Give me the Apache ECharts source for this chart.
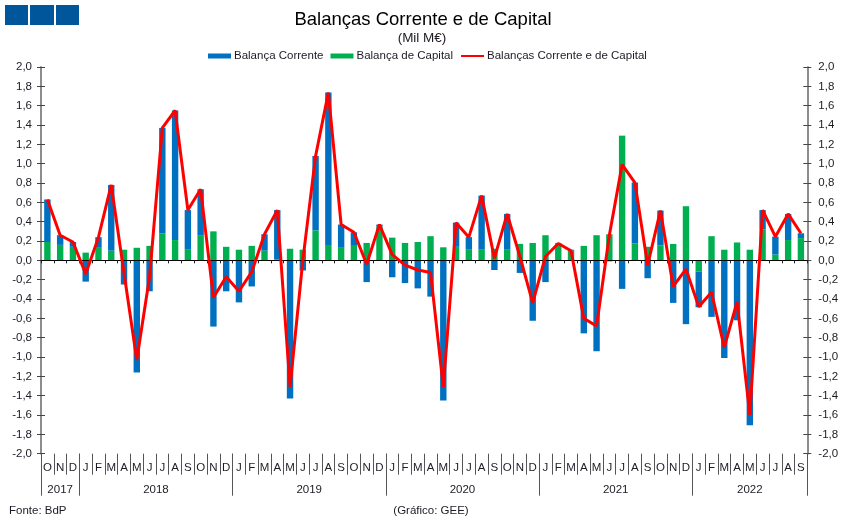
<!DOCTYPE html>
<html>
<head>
<meta charset="utf-8">
<script src="https://cdn.jsdelivr.net/npm/echarts@6/dist/echarts.min.js"></script>
<style>html,body{margin:0;padding:0;background:#fff}#chart{width:851px;height:525px}</style>
</head>
<body>
<div id="chart"></div>
<script>
var meses = ['O','N','D',
  'J','F','M','A','M','J','J','A','S','O','N','D',
  'J','F','M','A','M','J','J','A','S','O','N','D',
  'J','F','M','A','M','J','J','A','S','O','N','D',
  'J','F','M','A','M','J','J','A','S','O','N','D',
  'J','F','M','A','M','J','J','A','S'];
var anos = ['2017','2018','2019','2020','2021','2022'];
var anoLimites = [0,3,15,27,39,51,60];
var anoCentros = [1.5,9,21,33,45,55.5];

var balCorrente = [0.44,0.10,0.05,-0.22,0.11,0.68,-0.25,-1.16,-0.32,1.09,1.34,0.41,0.48,-0.685,-0.32,
  -0.435,-0.27,0.17,0.51,-1.43,-0.105,0.77,1.575,0.24,0.14,-0.225,0.02,
  -0.175,-0.235,-0.29,-0.375,-1.45,0.25,0.13,0.56,-0.10,0.37,-0.13,-0.625,
  -0.225,0.005,0.01,-0.755,-0.94,-0.01,-0.295,0.63,-0.185,0.36,-0.44,-0.66,
  -0.37,-0.585,-1.01,-0.62,-1.705,0.20,0.185,0.27,0.05];
var balCapital = [0.19,0.16,0.14,0.08,0.13,0.10,0.11,0.13,0.15,0.28,0.21,0.11,0.255,0.30,0.14,
  0.11,0.15,0.10,0.01,0.12,0.11,0.31,0.16,0.13,0.15,0.18,0.35,
  0.235,0.18,0.19,0.25,0.135,0.14,0.11,0.11,0.12,0.11,0.17,0.18,
  0.26,0.175,0.10,0.15,0.26,0.27,1.29,0.175,0.14,0.155,0.17,0.56,
  -0.115,0.25,0.11,0.185,0.11,0.32,0.06,0.21,0.23];
var balTotal = [0.63,0.26,0.19,-0.14,0.24,0.78,-0.13,-1.03,-0.17,1.37,1.55,0.52,0.735,-0.385,-0.17,
  -0.32,-0.12,0.27,0.52,-1.31,0.0,1.08,1.735,0.37,0.29,-0.04,0.37,
  0.06,-0.05,-0.10,-0.125,-1.31,0.39,0.24,0.67,0.02,0.48,0.04,-0.44,
  0.04,0.175,0.10,-0.60,-0.68,0.26,0.99,0.805,-0.05,0.515,-0.27,-0.09,
  -0.48,-0.33,-0.90,-0.43,-1.60,0.52,0.245,0.48,0.28];

var fonte = 'Liberation Sans, Arial, sans-serif';
var corTexto = '#1f1a24';

function fmt(v){ return v.toFixed(1).replace('.', ','); }

// cada lado tem dois eixos para o tick cruzar a linha
function eixoY(lado, dentro){
  return {
    type:'value', position:lado, min:-2, max:2, interval:0.2,
    axisLine:{show:true, onZero:false, lineStyle:{color:'#868686', width:1.5}},
    axisTick:{show:true, inside:dentro, length:4, lineStyle:{color:'#444', width:1}},
    axisLabel:{show:!dentro, formatter:fmt, color:corTexto, fontFamily:fonte, fontSize:11.5, margin:lado=='left'?9:11},
    splitLine:{show:false}
  };
}

var chart = echarts.init(document.getElementById('chart'), null, {renderer:'canvas'});
chart.setOption({
  animation:false,
  backgroundColor:'#fff',
  title:[
    {text:'Balanças Corrente e de Capital', left:418, top:5, textAlign:'center', textStyle:{fontFamily:fonte, fontSize:18.5, fontWeight:'normal', color:'#000'}},
    {text:'(Mil M€)', left:417, top:26, textAlign:'center', textStyle:{fontFamily:fonte, fontSize:13.5, fontWeight:'normal', color:corTexto}},
    {text:'Fonte: BdP', left:4, top:500, textStyle:{fontFamily:fonte, fontSize:11.5, fontWeight:'normal', color:corTexto}},
    {text:'(Gráfico: GEE)', left:426, top:500, textAlign:'center', textStyle:{fontFamily:fonte, fontSize:11.5, fontWeight:'normal', color:corTexto}}
  ],
  graphic:[
    {type:'rect', shape:{x:5,y:5,width:23,height:20}, style:{fill:'#00569b'}},
    {type:'rect', shape:{x:30,y:5,width:24,height:20}, style:{fill:'#00569b'}},
    {type:'rect', shape:{x:56,y:5,width:23,height:20}, style:{fill:'#00569b'}}
  ],
  legend:{
    data:[{name:'Balança Corrente', icon:'rect'},{name:'Balança de Capital', icon:'rect'},{name:'Balanças Corrente e de Capital', itemStyle:{opacity:0}}],
    left:203, top:45, itemWidth:23, itemHeight:5, itemGap:7,
    textStyle:{fontFamily:fonte, fontSize:11.5, color:corTexto, padding:[0,0,0,-2]}
  },
  grid:{left:41, right:43.7, top:67, bottom:71.3, containLabel:false},
  xAxis:[
    {type:'category', data:meses, position:'bottom', z:2,
      axisLine:{show:true, onZero:true, lineStyle:{color:'#000', width:1}},
      axisTick:{show:true, length:3, interval:0, lineStyle:{color:'#222', width:1}},
      axisLabel:{show:false}},
    {type:'category', data:meses, position:'bottom',
      axisLine:{show:false, onZero:false},
      axisTick:{show:true, length:21, interval:0, lineStyle:{color:'#555', width:1}},
      axisLabel:{show:true, interval:0, margin:8, color:corTexto, fontFamily:fonte, fontSize:11.5}},
    {type:'value', position:'bottom', min:0, max:60,
      axisLine:{show:false, onZero:false},
      axisTick:{show:true, length:42, customValues:anoLimites, lineStyle:{color:'#555', width:1}},
      axisLabel:{show:true, customValues:anoCentros, margin:30, color:corTexto, fontFamily:fonte, fontSize:11.5,
        formatter:function(v){ return anos[anoCentros.indexOf(v)]; }},
      splitLine:{show:false}}
  ],
  yAxis:[eixoY('left',false), eixoY('left',true), eixoY('right',false), eixoY('right',true)],
  series:[
    {name:'Balança de Capital', type:'bar', stack:'bal', barWidth:6.4, z:1, itemStyle:{color:'#00b050'}, data:balCapital},
    {name:'Balança Corrente', type:'bar', stack:'bal', barWidth:6.4, z:1, itemStyle:{color:'#0070c0'}, data:balCorrente},
    {name:'Balanças Corrente e de Capital', type:'line', z:3, symbol:'none', lineStyle:{color:'#ff0000', width:3}, itemStyle:{color:'#ff0000'}, data:balTotal}
  ]
});
</script>
</body>
</html>
